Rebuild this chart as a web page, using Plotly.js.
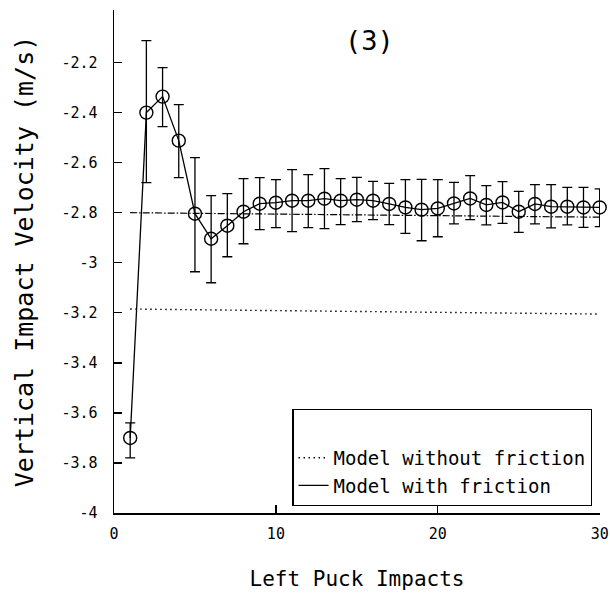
<!DOCTYPE html>
<html>
<head>
<meta charset="utf-8">
<script src="https://cdn.plot.ly/plotly-3.0.1.min.js"></script>
<style>
  html, body { margin: 0; padding: 0; background: #fff; }
  #chart { width: 610px; height: 602px; }
</style>
</head>
<body>
<div id="chart"></div>
<script>
// Left puck impact number
const impacts = [1, 2, 3, 4, 5, 6, 7, 8, 9, 10, 11, 12, 13, 14, 15,
                 16, 17, 18, 19, 20, 21, 22, 23, 24, 25, 26, 27, 28, 29, 30];

// Measured vertical impact velocity (m/s), mean per impact
const velocity = [-3.70, -2.40, -2.336, -2.512, -2.804, -2.904, -2.852, -2.796, -2.764, -2.760,
                  -2.752, -2.752, -2.744, -2.752, -2.748, -2.752, -2.765, -2.779, -2.788, -2.783,
                  -2.763, -2.743, -2.769, -2.759, -2.796, -2.765, -2.776, -2.776, -2.779, -2.779];

// Upper and lower ends of the error bars (m/s)
const velocityHigh = [-3.64, -2.112, -2.22, -2.368, -2.58, -2.732, -2.724, -2.664, -2.66, -2.668,
                      -2.628, -2.648, -2.624, -2.664, -2.659, -2.675, -2.683, -2.668, -2.667, -2.668,
                      -2.679, -2.652, -2.692, -2.676, -2.715, -2.688, -2.688, -2.699, -2.699, -2.705];
const velocityLow = [-3.78, -2.68, -2.456, -2.66, -3.036, -3.08, -2.976, -2.924, -2.868, -2.86,
                     -2.876, -2.86, -2.864, -2.848, -2.836, -2.828, -2.848, -2.883, -2.912, -2.896,
                     -2.845, -2.828, -2.849, -2.843, -2.879, -2.845, -2.861, -2.849, -2.859, -2.856];

// Model predictions
const modelImpacts = [1, 30];
const modelNoFriction = [-3.185, -3.205];
const modelFriction = [-2.800, -2.818];

// Axis ticks
const yTicks = [-4, -3.8, -3.6, -3.4, -3.2, -3, -2.8, -2.6, -2.4, -2.2];
const yTickText = ['-4', '-3.8', '-3.6', '-3.4', '-3.2', '-3', '-2.8', '-2.6', '-2.4', '-2.2'];
const xTicks = [0, 10, 20, 30];
const xTickText = ['0', '10', '20', '30'];

const errPlus = velocityHigh.map((h, i) => h - velocity[i]);
const errMinus = velocityLow.map((l, i) => velocity[i] - l);

const FONT = '"DejaVu Sans Mono", "Liberation Mono", monospace';

const traces = [
  {
    x: modelImpacts, y: modelNoFriction,
    type: 'scatter', mode: 'lines',
    name: 'Model without friction',
    line: { color: '#000', width: 1.4, dash: '1.5px,3.5px' },
    showlegend: true
  },
  {
    x: modelImpacts, y: modelFriction,
    type: 'scatter', mode: 'lines',
    name: 'Model with friction',
    line: { color: '#000', width: 1.2, dash: '7px,2px,1.5px,2px' },
    showlegend: false
  },
  {
    // legend key for the friction model
    x: [null], y: [null],
    type: 'scatter', mode: 'lines',
    name: 'Model with friction',
    line: { color: '#000', width: 1.4 },
    showlegend: true
  },
  {
    x: impacts, y: velocity,
    type: 'scatter', mode: 'lines+markers',
    name: 'Measured',
    showlegend: false,
    line: { color: '#000', width: 1.3 },
    marker: { symbol: 'circle-open', size: 13, color: '#000', line: { width: 1.4, color: '#000' } },
    error_y: { type: 'data', symmetric: false, array: errPlus, arrayminus: errMinus,
               color: '#000', thickness: 1.3, width: 5 },
    cliponaxis: false
  }
];

const layout = {
  width: 610, height: 602,
  margin: { l: 114, r: 10, t: 10, b: 89 },
  paper_bgcolor: '#fff', plot_bgcolor: '#fff',
  font: { family: FONT, color: '#000' },
  showlegend: true,
  legend: {
    x: 0.984, xanchor: 'right', y: 0.014, yanchor: 'bottom',
    bgcolor: '#fff', bordercolor: '#000', borderwidth: 1.3,
    font: { family: FONT, size: 19, color: '#000' },
    title: { text: '\u00a0', font: { family: FONT, size: 22 } },
    traceorder: 'normal', itemwidth: 30
  },
  xaxis: {
    range: [0, 30.02],
    tickvals: xTicks, ticktext: xTickText,
    ticks: 'inside', ticklen: 8, tickwidth: 1.3, tickcolor: '#000',
    showline: true, linecolor: '#000', linewidth: 1.5,
    showgrid: false, zeroline: false,
    tickfont: { family: FONT, size: 15, color: '#000' },
    ticklabelstandoff: 6,
    ticklabeloverflow: 'allow',
    title: { text: 'Left Puck Impacts', font: { family: FONT, size: 21, color: '#000' }, standoff: 30 }
  },
  yaxis: {
    range: [-4, -1.99],
    tickvals: yTicks, ticktext: yTickText,
    ticks: 'inside', ticklen: 8, tickwidth: 1.3, tickcolor: '#000',
    showline: true, linecolor: '#000', linewidth: 1.5,
    showgrid: false, zeroline: false,
    tickfont: { family: FONT, size: 15, color: '#000' },
    ticklabelstandoff: 12,
    title: { text: 'Vertical Impact Velocity (m/s)', font: { family: FONT, size: 25, color: '#000' }, standoff: 20 }
  },
  annotations: [
    {
      text: '(3)', xref: 'paper', yref: 'paper', x: 0.525, y: 0.94,
      xanchor: 'center', yanchor: 'middle', showarrow: false,
      font: { family: FONT, size: 27, color: '#000' }
    }
  ]
};

Plotly.newPlot('chart', traces, layout, { displayModeBar: false, staticPlot: true });
</script>
</body>
</html>
